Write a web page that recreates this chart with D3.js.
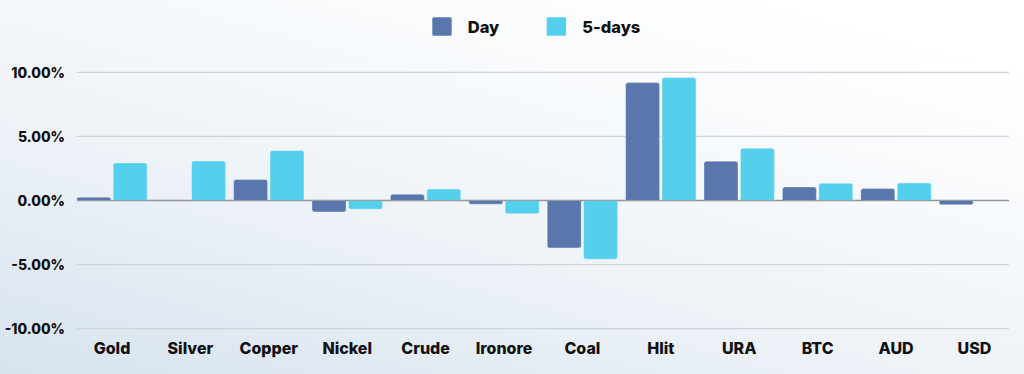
<!DOCTYPE html>
<html>
<head>
<meta charset="utf-8">
<script src="https://cdn.jsdelivr.net/npm/d3@7"></script>
<style>
html,body{margin:0;padding:0;width:1024px;height:374px;overflow:hidden;}
svg{display:block;}
</style>
</head>
<body>
<svg id="chart" width="1024" height="374"></svg>
<script>
const categories = ["Gold","Silver","Copper","Nickel","Crude","Ironore","Coal","Hlit","URA","BTC","AUD","USD"];
const dayValues = [0.26, -0.05, 1.64, -0.89, 0.49, -0.29, -3.70, 9.20, 3.07, 1.06, 0.93, -0.34];
const fiveDayValues = [2.93, 3.09, 3.90, -0.68, 0.90, -1.04, -4.58, 9.60, 4.08, 1.35, 1.37, 0.00];
const seriesNames = ["Day", "5-days"];
const yTicks = [-10, -5, 0, 5, 10];

const colors = ["#5a77ad", "#55d0ec"];
const W = 1024, H = 374;
const svg = d3.select("#chart");
const FONT = "Inter, 'Open Sans', sans-serif";

// background gradient
const defs = svg.append("defs");
const g = defs.append("linearGradient").attr("id","bg")
  .attr("x1","0").attr("y1","1").attr("x2","0.75").attr("y2","0");
g.append("stop").attr("offset","0%").attr("stop-color","#d7e3ee");
g.append("stop").attr("offset","45%").attr("stop-color","#eef3f8");
g.append("stop").attr("offset","100%").attr("stop-color","#ffffff");
svg.append("rect").attr("width",W).attr("height",H).attr("fill","url(#bg)");

const y = d3.scaleLinear().domain([-10, 10]).range([328.7, 72.3]);
const x = d3.scaleBand().domain(categories).range([72.8, 1013.6]).paddingInner(0).paddingOuter(0);

const gridL = 77, gridR = 1009;
// gridlines
svg.append("g").selectAll("line").data(yTicks).join("line")
  .attr("x1", gridL).attr("x2", gridR)
  .attr("y1", d => y(d)).attr("y2", d => y(d))
  .attr("stroke", d => d === 0 ? "#8f959b" : "#cfd3d7")
  .attr("stroke-width", d => d === 0 ? 1.5 : 1.3);

// y axis
const yAxis = d3.axisLeft(y).tickValues(yTicks).tickSize(0).tickPadding(0)
  .tickFormat(d => d.toFixed(2) + "%");
const ya = svg.append("g").attr("transform", "translate(65,0)").call(yAxis);
ya.select(".domain").remove();
ya.selectAll("text").attr("font-family", FONT)
  .attr("font-weight", 800).attr("font-size", 14).attr("fill","#111").attr("dy","0.35em");

// x axis
const xAxis = d3.axisBottom(x).tickSize(0).tickPadding(0);
const xa = svg.append("g").attr("transform", "translate(0,353.5)").call(xAxis);
xa.select(".domain").remove();
xa.selectAll("text").attr("font-family", FONT)
  .attr("font-weight", 800).attr("font-size", 16).attr("fill","#111").attr("dy", 0);

// bars
const inner = 70.4, barW = 34;
const groupOff = (x.bandwidth() - inner) / 2;
const data = categories.map((c, i) => ({c, vals: [dayValues[i], fiveDayValues[i]]}));
const groups = svg.append("g").selectAll("g").data(data).join("g")
  .attr("transform", d => `translate(${x(d.c)},0)`);
groups.selectAll("path").data(d => d.vals.map((v, j) => ({v, j}))).join("path")
  .attr("d", d => {
    const x0 = groupOff + d.j * (inner - barW);
    const y0 = y(0), y1 = y(d.v);
    const h = Math.abs(y1 - y0);
    const r = Math.min(2.5, h / 2);
    if (h < 0.3) return "";
    if (d.v >= 0) {
      return `M${x0},${y0}V${y1 + r}Q${x0},${y1} ${x0 + r},${y1}H${x0 + barW - r}Q${x0 + barW},${y1} ${x0 + barW},${y1 + r}V${y0}Z`;
    } else {
      return `M${x0},${y0}V${y1 - r}Q${x0},${y1} ${x0 + r},${y1}H${x0 + barW - r}Q${x0 + barW},${y1} ${x0 + barW},${y1 - r}V${y0}Z`;
    }
  })
  .attr("fill", d => colors[d.j])
  .attr("stroke", "rgba(255,255,255,0.35)")
  .attr("stroke-width", 1);

// redraw zero line over bars
svg.append("line").attr("x1", gridL).attr("x2", gridR).attr("y1", y(0)).attr("y2", y(0))
  .attr("stroke", "#8f959b").attr("stroke-width", 1.2).attr("opacity", 0.8);

// legend
const legend = svg.append("g");
const legX = [432.3, 546.7];
seriesNames.forEach((s, i) => {
  legend.append("rect").attr("x", legX[i]).attr("y", 17.3).attr("width", 19.4).attr("height", 18.4)
    .attr("rx", 1.5).attr("fill", colors[i]);
  legend.append("text").attr("x", legX[i] + 35.5).attr("y", 32.5)
    .attr("font-family", FONT).attr("font-weight", 800)
    .attr("font-size", 16.5).attr("fill", "#111").text(s);
});
</script>
</body>
</html>
